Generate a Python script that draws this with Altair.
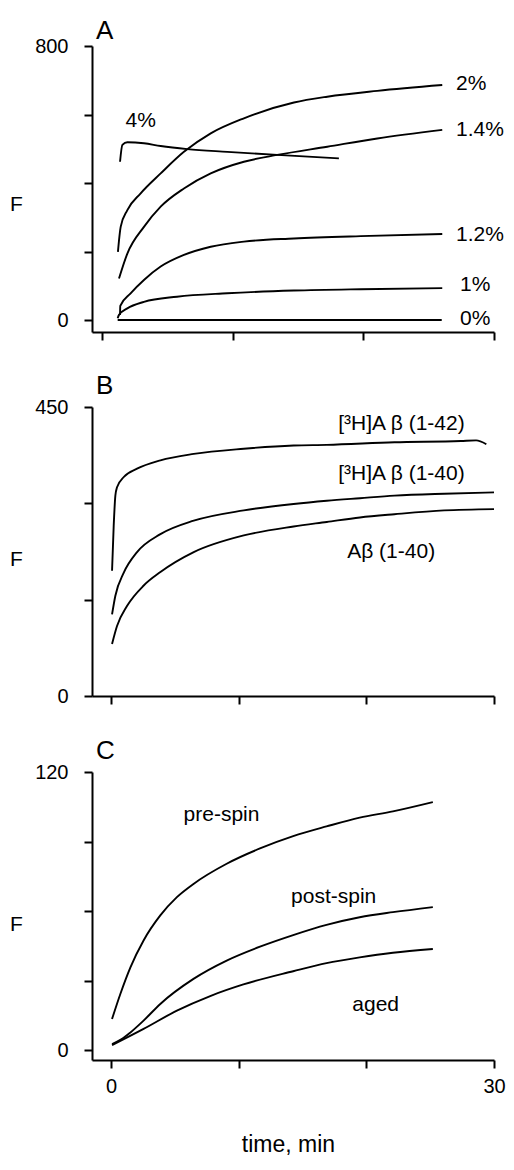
import altair as alt
import pandas as pd

FONT = "Liberation Sans"

# ---------------- Panel A (SDS concentration) ----------------
A_t_0 = [1.2, 10.0, 20.0, 26.0]
A_f_0 = [0, 0, 0, 0]
A_t_1 = [1.2, 1.30, 1.94, 3.21, 5.74, 9.59, 14.69, 19.79, 26.04]
A_f_1 = [5, 15, 34, 53, 68, 78, 86, 90, 93]
A_t_12 = [1.38, 1.40, 2.19, 3.21, 4.49, 6.27, 8.32, 10.86, 14.69, 19.79, 26.04]
A_f_12 = [15, 41, 78, 117, 156, 190, 214, 229, 238, 245, 251]
A_t_14 = [1.30, 1.94, 3.21, 4.49, 6.27, 8.32, 10.86, 13.41, 17.24, 21.07, 26.04]
A_f_14 = [121, 194, 272, 331, 384, 428, 462, 482, 506, 530, 555]
A_t_2 = [1.22, 1.43, 1.94, 2.96, 4.49, 6.27, 8.32, 10.86, 14.69, 17.24, 21.07, 26.04]
A_f_2 = [199, 272, 321, 370, 428, 491, 545, 589, 635, 652, 669, 686]
A_t_4 = [1.38, 1.56, 1.94, 3.21, 4.49, 6.53, 9.59, 13.41, 18.13]
A_f_4 = [462, 511, 519, 516, 508, 499, 491, 482, 472]

A_labels = ["2%", "1.4%", "1.2%", "1%", "0%", "4%"]
A_label_t = [27.1, 27.1, 27.1, 27.4, 27.4, 1.8]
A_label_f = [690, 556, 249, 103, 4, 582]

# ---------------- Panel B (peptides) ----------------
B_t_42 = [0.08, 0.21, 0.34, 0.47, 1.0, 2.04, 3.87, 6.48, 10.4, 14.3, 16.9, 22.2, 27.4, 28.6, 29.4]
B_f_42 = [195, 265, 312, 325, 341, 354, 367, 377, 385, 390, 391, 395, 397, 398, 392]
B_t_40h = [0.08, 0.34, 1.0, 2.04, 3.87, 6.48, 10.4, 14.3, 16.9, 19.5, 22.2, 26.1, 30.0]
B_f_40h = [127, 156, 192, 224, 252, 273, 289, 299, 304, 308, 312, 315, 317]
B_t_40 = [0.08, 0.47, 1.25, 2.56, 3.87, 6.48, 10.4, 14.3, 16.9, 19.5, 22.2, 26.1, 30.0]
B_f_40 = [81, 109, 140, 172, 193, 224, 250, 264, 271, 278, 283, 289, 291]

B_labels = ["[³H]A β (1-42)", "[³H]A β (1-40)", "Aβ (1-40)"]
B_label_t = [17.8, 17.8, 18.5]
B_label_f = [424, 346, 224]

# ---------------- Panel C (spin) ----------------
C_t_pre = [0.08, 0.73, 1.52, 2.55, 3.86, 5.16, 6.46, 9.06, 11.67, 14.27, 16.88, 19.48, 22.08, 25.21]
C_f_pre = [13.4, 24.2, 35.7, 47.3, 58.1, 66.0, 71.7, 80.4, 87.0, 92.3, 96.5, 100.3, 103.0, 107.0]
C_t_post = [0.08, 0.8, 1.52, 2.55, 3.86, 6.46, 9.06, 11.67, 14.27, 16.88, 19.48, 22.08, 25.21]
C_f_post = [2.6, 4.6, 7.6, 12.7, 19.9, 30.7, 38.6, 44.6, 49.6, 54.0, 57.3, 59.5, 61.7]
C_t_aged = [0.08, 2.55, 5.16, 7.77, 10.37, 14.27, 16.88, 19.48, 22.08, 25.21]
C_f_aged = [2.1, 9.1, 17.0, 23.3, 28.3, 34.0, 37.5, 40.0, 42.0, 43.6]

C_labels = ["pre-spin", "post-spin", "aged"]
C_label_t = [5.68, 14.1, 18.9]
C_label_f = [101.4, 66, 19.3]

W = 402


def curves(pairs):
    frames = []
    for name, t, f in pairs:
        frames.append(pd.DataFrame({"t": t, "f": f, "s": name}))
    return pd.concat(frames, ignore_index=True)


def panel(df, lab_df, letter, xdom, ydom, yvals, ytop, h, titleY, show_x_labels, toff):
    xs = alt.Scale(domain=xdom, nice=False, zero=False)
    ys = alt.Scale(domain=ydom, nice=False, zero=False)
    ylab = "datum.value == 0 || datum.value == %d ? datum.label : ''" % ytop
    if show_x_labels:
        xaxis = alt.Axis(values=[0, 10, 20, 30], labelFlush=False,
                         labelExpr="datum.value == 0 || datum.value == 30 ? datum.label : ''",
                         title="time, min", titleFontSize=23, titleX=196,
                         titlePadding=37, labelPadding=8)
    else:
        xaxis = alt.Axis(values=[0, 10, 20, 30], labels=False, title=None)
    yaxis = alt.Axis(values=yvals, labelExpr=ylab, labelFlush=False, labelPadding=16,
                     title="F", titleFontSize=21, titleAngle=0, titleX=-76, titleY=titleY,
                     titleBaseline="middle", titleAlign="center")
    lines = alt.Chart(df).mark_line(color="black", strokeWidth=1.9, interpolate="monotone").encode(
        x=alt.X("t:Q", scale=xs, axis=xaxis),
        y=alt.Y("f:Q", scale=ys, axis=yaxis),
        detail="s:N",
    )
    texts = alt.Chart(lab_df).mark_text(align="left", baseline="middle", font=FONT,
                                         fontSize=21, color="black").encode(
        x=alt.X("t:Q", scale=xs),
        y=alt.Y("f:Q", scale=ys),
        text="label:N",
    )
    return alt.layer(lines, texts).properties(
        width=W, height=h,
        title=alt.TitleParams(text=letter, anchor="start", frame="group", fontSize=26,
                              font=FONT, fontWeight="normal", color="black", dx=4, offset=toff),
    )


dfA = curves([("0", A_t_0, A_f_0), ("1", A_t_1, A_f_1), ("12", A_t_12, A_f_12),
              ("14", A_t_14, A_f_14), ("2", A_t_2, A_f_2), ("4", A_t_4, A_f_4)])
dfB = curves([("42", B_t_42, B_f_42), ("40h", B_t_40h, B_f_40h), ("40", B_t_40, B_f_40)])
dfC = curves([("pre", C_t_pre, C_f_pre), ("post", C_t_post, C_f_post), ("aged", C_t_aged, C_f_aged)])

labA = pd.DataFrame({"label": A_labels, "t": A_label_t, "f": A_label_f})
labB = pd.DataFrame({"label": B_labels, "t": B_label_t, "f": B_label_f})
labC = pd.DataFrame({"label": C_labels, "t": C_label_t, "f": C_label_f})

pA = panel(dfA, labA, "A", [-0.765, 30.0], [-35, 800], [0, 200, 400, 600, 800], 800, 286, 158, False, -8)
pB = panel(dfB, labB, "B", [-1.49, 30], [0, 450], [0, 150, 300, 450], 450, 289, 152, False, -2)
pC = panel(dfC, labC, "C", [-1.49, 30], [-4.3, 120], [0, 30, 60, 90, 120], 120, 288, 152, True, -2)

top = alt.vconcat(pA, pB, spacing=32)
chart = alt.vconcat(top, pC, spacing=32).properties(
    padding={"left": 1, "top": 10, "right": 0, "bottom": 0}
).configure_view(stroke=None).configure_axis(
    domainColor="black", domainWidth=2, tickColor="black", tickWidth=2, tickSize=8,
    grid=False, labelFont=FONT, labelFontSize=20, labelColor="black",
    titleFont=FONT, titleFontSize=20, titleColor="black", titleFontWeight="normal",
)

chart.save("out.html", embed_options={"renderer": "svg", "actions": False})
